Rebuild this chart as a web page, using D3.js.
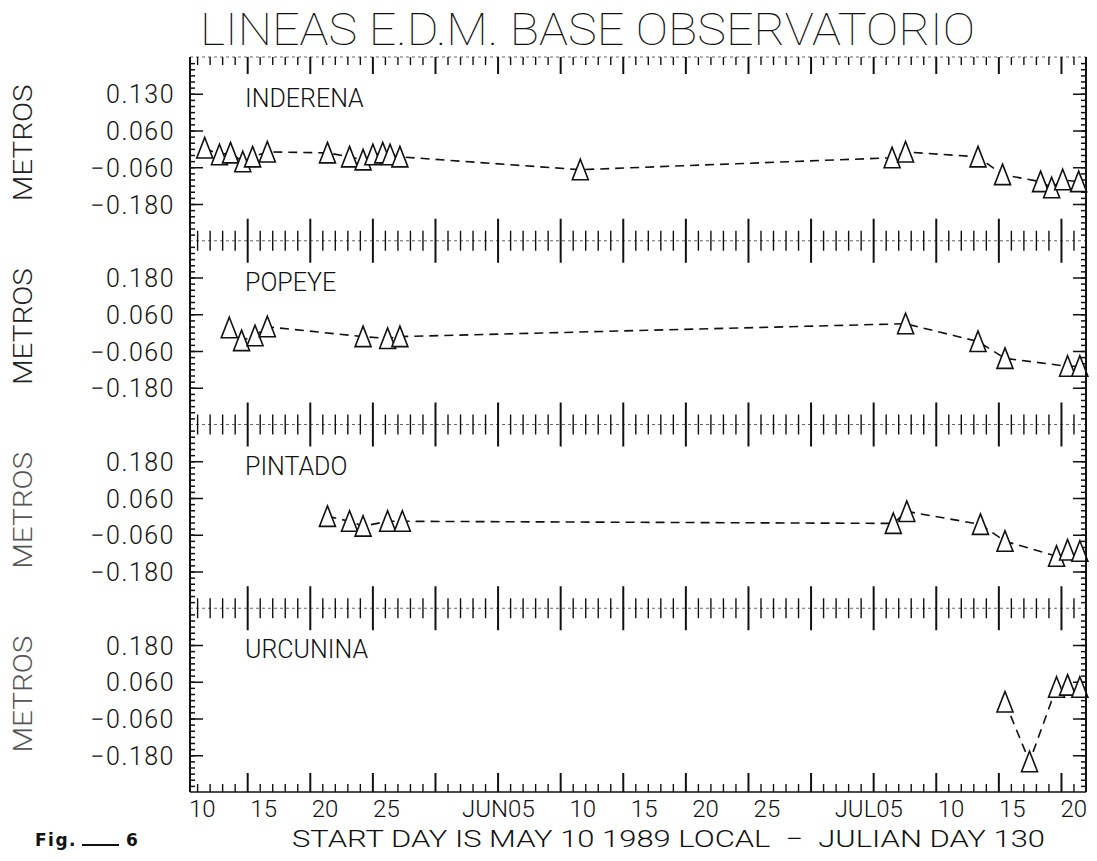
<!DOCTYPE html>
<html>
<head>
<meta charset="utf-8">
<script src="https://cdn.jsdelivr.net/npm/d3@7"></script>
<style>
  html, body { margin: 0; padding: 0; background: #fff; }
  svg { display: block; }
  text { font-family: Roboto, "DejaVu Sans", sans-serif; font-weight: 300; fill: #111; }
</style>
</head>
<body>
<svg id="chart" width="1097" height="861"></svg>
<script>
// EDM baseline length changes (metres) by Julian day, 1989
const inderenaDay = [130.2, 131.4, 132.3, 133.3, 134.1, 135.3, 140.2, 142.0, 143.1, 143.9, 144.7, 145.3, 146.1, 160.8, 186.2, 187.3, 193.2, 195.2, 198.3, 199.2, 200.1, 201.4];
const inderenaM   = [0.003, -0.019, -0.013, -0.042, -0.026, -0.010, -0.013, -0.026, -0.036, -0.019, -0.013, -0.019, -0.026, -0.068, -0.029, -0.010, -0.026, -0.084, -0.107, -0.127, -0.101, -0.107];

const popeyeDay = [132.2, 133.2, 134.3, 135.3, 143.1, 145.1, 146.1, 187.3, 193.2, 195.4, 200.5, 201.5];
const popeyeM   = [0.016, -0.026, -0.010, 0.019, -0.013, -0.019, -0.013, 0.029, -0.029, -0.084, -0.110, -0.110];

const pintadoDay = [140.2, 142.0, 143.1, 145.1, 146.3, 186.3, 187.4, 193.4, 195.4, 199.6, 200.5, 201.5];
const pintadoM   = [0.000, -0.016, -0.032, -0.016, -0.016, -0.023, 0.016, -0.026, -0.081, -0.130, -0.110, -0.114];

const urcuninaDay = [195.4, 197.4, 199.6, 200.5, 201.5];
const urcuninaM   = [-0.006, -0.201, 0.042, 0.049, 0.042];

const panelNames = ["INDERENA", "POPEYE", "PINTADO", "URCUNINA"];
const panelDays  = [inderenaDay, popeyeDay, pintadoDay, urcuninaDay];
const panelVals  = [inderenaM, popeyeM, pintadoM, urcuninaM];

// y axis: labelled ticks (top panel prints its upper label as shown on the plot)
const yTickValues = [0.18, 0.06, -0.06, -0.18];
const yTickLabelsTop = ["0.130", "0.060", "\u22120.060", "\u22120.180"];
const yTickLabels    = ["0.180", "0.060", "\u22120.060", "\u22120.180"];

// x axis: date labels at Julian days
const xTickDays   = [130, 135, 140, 145, 156, 161, 166, 171, 176, 186, 191, 196, 201];
const xTickLabels = ["10", "15", "20", "25", "JUN05", "10", "15", "20", "25", "JUL05", "10", "15", "20"];

const title = "LINEAS E.D.M. BASE OBSERVATORIO";
const xTitle = "START DAY IS MAY 10 1989 LOCAL  \u2212  JULIAN DAY 130";

// ---------------------------------------------------------------
const svg = d3.select("#chart");
const frame = { left: 190, right: 1086, top: 57, bottom: 792 };
const panelH = (frame.bottom - frame.top) / 4;

const x = d3.scaleLinear().domain([129, 202]).range([frame.left, frame.right]);

// day ticks of the plotter: one every ~1.02 day, every fifth one long
const tickStart = 133.7, tickStep = 1.02;
const dayTicks = d3.range(-4, 70)
  .map(k => ({ v: tickStart + k * tickStep, major: ((k % 5) + 5) % 5 === 0 }))
  .filter(d => d.v > 129 && d.v < 202);
const majorTicks = dayTicks.filter(d => d.major);
const minorTicks = dayTicks.filter(d => !d.major);

const ink = "#111";

// title
svg.append("text")
  .attr("x", 200).attr("y", 45)
  .attr("textLength", 775).attr("lengthAdjust", "spacingAndGlyphs")
  .style("font-size", "45px").style("font-weight", 100)
  .text(title);

const tri = "M0,-10.5 L8,10 L-8,10 Z";

panelNames.forEach((name, i) => {
  const top = frame.top + i * panelH;
  const bottom = top + panelH;
  const y = d3.scaleLinear().domain([-0.30, 0.30]).range([bottom, top]);
  const g = svg.append("g");

  // minor y ticks every 0.02 m, both sides
  const minorY = d3.range(-14, 15).map(k => k * 0.02).filter(v => Math.abs(v) < 0.295);
  const leftMinor = d3.axisLeft(y).tickValues(minorY).tickSizeInner(-5).tickSizeOuter(0).tickFormat("");
  const rightMinor = d3.axisRight(y).tickValues(minorY).tickSizeInner(-5).tickSizeOuter(0).tickFormat("");
  const labels = i === 0 ? yTickLabelsTop : yTickLabels;
  const leftMajor = d3.axisLeft(y).tickValues(yTickValues).tickSizeInner(-13).tickSizeOuter(0)
    .tickPadding(15).tickFormat((d, j) => labels[j]);
  const rightMajor = d3.axisRight(y).tickValues(yTickValues).tickSizeInner(-13).tickSizeOuter(0).tickFormat("");

  [leftMinor, leftMajor].forEach(ax => g.append("g").attr("transform", `translate(${frame.left},0)`).call(ax));
  [rightMinor, rightMajor].forEach(ax => g.append("g").attr("transform", `translate(${frame.right},0)`).call(ax));
  g.selectAll(".domain").remove();
  g.selectAll(".tick line").attr("stroke", ink).attr("stroke-width", 1.5);
  g.selectAll(".tick text")
    .style("font-size", "25px").style("letter-spacing", "1.5px")
    .attr("fill", ink).attr("dy", "0.36em");

  // METROS
  svg.append("text")
    .attr("transform", `translate(32,${(top + bottom) / 2 - 6}) rotate(-90)`)
    .attr("text-anchor", "middle")
    .attr("textLength", 117).attr("lengthAdjust", "spacingAndGlyphs")
    .style("font-size", "26px").style("font-weight", 300)
    .style("fill", i >= 2 ? "#555" : "#222")
    .text("METROS");

  // station name
  svg.append("text")
    .attr("x", 245).attr("y", top + 50)
    .style("font-size", "25px")
    .text(name);

  // series
  const pts = panelDays[i].map((d, j) => ({ day: d, m: panelVals[i][j] }));
  const line = d3.line().x(d => x(d.day)).y(d => y(d.m));
  svg.append("path")
    .attr("d", line(pts))
    .attr("fill", "none").attr("stroke", ink)
    .attr("stroke-width", 1.6).attr("stroke-dasharray", "9,6");
  svg.append("g").selectAll("path").data(pts).join("path")
    .attr("d", tri)
    .attr("transform", d => `translate(${x(d.day)},${y(d.m)})`)
    .attr("fill", "#fff").attr("stroke", ink).attr("stroke-width", 1.6)
    .attr("stroke-linejoin", "miter");
});

// horizontal frame lines
const bounds = d3.range(5).map(k => frame.top + k * panelH);
svg.append("g").selectAll("line").data(bounds).join("line")
  .attr("x1", frame.left).attr("x2", frame.right)
  .attr("y1", d => d).attr("y2", d => d)
  .attr("stroke", (d, k) => (k === 4 ? ink : "#666"))
  .attr("stroke-width", (d, k) => (k === 4 ? 1.6 : 1))
  .attr("stroke-dasharray", (d, k) => (k === 4 ? null : "3,3"));

// vertical frame lines
svg.append("line").attr("x1", frame.left).attr("x2", frame.left)
  .attr("y1", frame.top).attr("y2", frame.bottom)
  .attr("stroke", ink).attr("stroke-width", 2);
svg.append("line").attr("x1", frame.right).attr("x2", frame.right)
  .attr("y1", frame.top).attr("y2", frame.bottom)
  .attr("stroke", ink).attr("stroke-width", 2);

// day ticks: down from the top, up from the bottom, crossing between panels
function tickSet(data, yPos, up, down, width) {
  svg.append("g").selectAll("line").data(data).join("line")
    .attr("x1", d => x(d.v)).attr("x2", d => x(d.v))
    .attr("y1", yPos - up).attr("y2", yPos + down)
    .attr("stroke", ink).attr("stroke-width", width);
}
function dayTickRow(yPos, up, down, upMinor, downMinor) {
  tickSet(minorTicks, yPos, upMinor, downMinor, 1.4);
  tickSet(majorTicks, yPos, up, down, 2);
}
dayTickRow(frame.top, 0, 17, 0, 8);
dayTickRow(frame.bottom, 19, 0, 8, 0);
bounds.slice(1, 4).forEach(b => dayTickRow(b, 22, 22, 10, 10));

// date labels: the day number is centred on its day
const xl = svg.append("g");
xTickDays.forEach((d, j) => {
  const lab = xTickLabels[j];
  const t = xl.append("text").attr("y", 817).style("font-size", "24px").text(lab);
  const node = t.node();
  const n = lab.length;
  const full = node.getComputedTextLength();
  const pre = n > 2 ? node.getSubStringLength(0, n - 2) : 0;
  const num = full - pre;
  t.attr("x", x(d) - pre - num / 2);
});

// axis caption
svg.append("text")
  .attr("x", 292).attr("y", 847)
  .attr("textLength", 753).attr("lengthAdjust", "spacingAndGlyphs")
  .style("font-size", "24px").style("white-space", "pre")
  .text(xTitle);

// figure number
svg.append("text")
  .attr("x", 35).attr("y", 846)
  .style("font-size", "17px").style("font-weight", 700).style("letter-spacing", "1.5px")
  .style("font-family", "'DejaVu Sans', sans-serif")
  .text("Fig.");
svg.append("line").attr("x1", 82).attr("x2", 119).attr("y1", 845).attr("y2", 845)
  .attr("stroke", ink).attr("stroke-width", 2);
svg.append("text")
  .attr("x", 126).attr("y", 846)
  .style("font-size", "17px").style("font-weight", 700)
  .style("font-family", "'DejaVu Sans', sans-serif")
  .text("6");
</script>
</body>
</html>
